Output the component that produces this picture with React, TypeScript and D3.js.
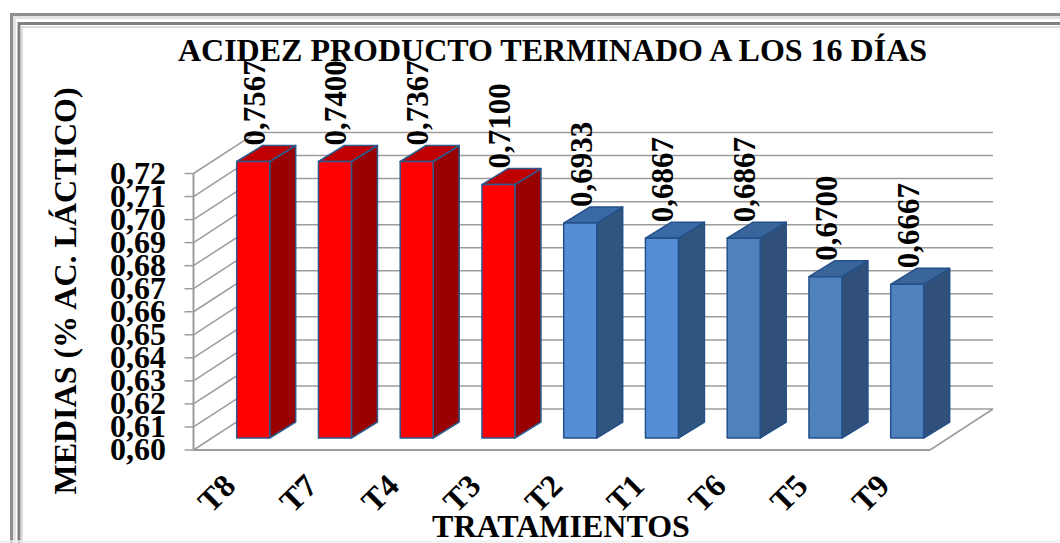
import React from "react";
import * as d3 from "d3";

// Acidez del producto terminado, tratamientos ordenados de mayor a menor
const treatments = ["T8", "T7", "T4", "T3", "T2", "T1", "T6", "T5", "T9"];
const means = [0.7567, 0.74, 0.7367, 0.71, 0.6933, 0.6867, 0.6867, 0.67, 0.6667];
const meanLabels = ["0,7567", "0,7400", "0,7367", "0,7100", "0,6933", "0,6867", "0,6867", "0,6700", "0,6667"];
const faceColors = ["#ff0000", "#ff0000", "#ff0000", "#ff0000", "#558ed5", "#558ed5", "#4f81bd", "#4f81bd", "#4f81bd"];
const sideColors = ["#990000", "#990000", "#990000", "#990000", "#30567f", "#30567f", "#30507a", "#30507a", "#30507a"];
const topColors = ["#c00000", "#c00000", "#c00000", "#c00000", "#3a6aa5", "#3a6aa5", "#3a659b", "#3a659b", "#3a659b"];
const axisTicks = d3.range(0, 13).map((i) => 0.6 + i * 0.01);

const W = 1060;
const H = 543;
const serif = "'Liberation Serif', 'Times New Roman', serif";

// Proyección oblicua del gráfico: plano frontal, pared trasera y plano de las barras
const wallX = 193.5;
const floorRightX = 930;
const depthX = 63;
const depthY = -41;
const y = d3.scaleLinear().domain([0.6, 0.72]).range([450, 173.5]).clamp(true);

const barDepthX = 26;
const barDepthY = -16;
const barWidth = 33;
const barBaseOffset = -12;
const barX = d3.scalePoint<string>().domain(treatments).range([236.7, 890.7]);

const gridColor = "#9c9c9c";

export default function App() {
  return (
    <svg
      width={W}
      height={H}
      viewBox={`0 0 ${W} ${H}`}
      style={{ position: "fixed", left: 0, top: 0, background: "#fff", display: "block" }}
    >
      {/* Marco biselado */}
      <g fill="none">
        <path d="M11.5 543V14.5H1060" stroke="#8f8f8f" strokeWidth={3} />
        <path d="M14.5 543V17.5H1060" stroke="#e4e4e4" strokeWidth={3} />
        <path d="M19 543V23.5H1060" stroke="#808080" strokeWidth={3} />
        <path d="M22 543V27H1060" stroke="#ddd" strokeWidth={2} />
        <path d="M0 541.5H1060" stroke="#f0f0f0" strokeWidth={2} />
      </g>

      {/* Paredes y suelo */}
      <g stroke={gridColor} strokeWidth={1.5} fill="none">
        {axisTicks.map((t) => (
          <g key={t.toFixed(2)}>
            <line x1={wallX} y1={y(t)} x2={wallX + depthX} y2={y(t) + depthY} />
            <line x1={wallX + depthX} y1={y(t) + depthY} x2={floorRightX + depthX} y2={y(t) + depthY} />
            <line x1={wallX - 9} y1={y(t)} x2={wallX} y2={y(t)} />
          </g>
        ))}
        <line x1={wallX} y1={y(0.6)} x2={wallX} y2={y(0.72)} strokeWidth={2} />
        <line x1={wallX} y1={y(0.6)} x2={floorRightX} y2={y(0.6)} strokeWidth={2} />
        <line x1={floorRightX} y1={y(0.6)} x2={floorRightX + depthX} y2={y(0.6) + depthY} />
      </g>

      {/* Barras en tres caras */}
      {treatments.map((name, i) => {
        const x0 = barX(name) as number;
        const x1 = x0 + barWidth;
        const base = y(0.6) + barBaseOffset;
        const top = y(means[i]) + barBaseOffset;
        const edge = i < 4 ? "#2c5a8c" : "#24508a";
        const side = `${x1},${top} ${x1 + barDepthX},${top + barDepthY} ${x1 + barDepthX},${base + barDepthY} ${x1},${base}`;
        const cap = `${x0},${top} ${x1},${top} ${x1 + barDepthX},${top + barDepthY} ${x0 + barDepthX},${top + barDepthY}`;
        return (
          <g key={name} stroke={edge} strokeWidth={1.5} strokeLinejoin="round">
            <polygon points={side} fill={sideColors[i]} />
            <polygon points={cap} fill={topColors[i]} />
            <rect x={x0} y={top} width={barWidth} height={base - top} fill={faceColors[i]} />
          </g>
        );
      })}

      {/* Valores de las medias */}
      <g fontFamily={serif} fontWeight="bold" fontSize={31} fill="#000">
        {treatments.map((name, i) => {
          const lx = (barX(name) as number) + 28;
          const ly = y(means[i]) + barBaseOffset + barDepthY;
          return (
            <text key={name} transform={`translate(${lx},${ly}) rotate(-90)`}>
              {meanLabels[i]}
            </text>
          );
        })}
      </g>

      {/* Escala vertical */}
      <g fontFamily={serif} fontWeight="bold" fontSize={32} fill="#000" textAnchor="end">
        {axisTicks.map((t) => (
          <text key={t.toFixed(2)} x={166} y={y(t) + 10}>
            {t.toFixed(2).replace(".", ",")}
          </text>
        ))}
      </g>

      {/* Categorías */}
      <g fontFamily={serif} fontWeight="bold" fontSize={32} fill="#000" textAnchor="middle">
        {treatments.map((name) => {
          const cx = (barX(name) as number) - 12.5;
          return (
            <text key={name} transform={`translate(${cx},${501}) rotate(-45)`}>
              {name}
            </text>
          );
        })}
      </g>

      {/* Títulos */}
      <g fontFamily={serif} fontWeight="bold" fill="#000">
        <text x={552.5} y={61} textAnchor="middle" fontSize={32}>
          ACIDEZ PRODUCTO TERMINADO A LOS 16 DÍAS
        </text>
        <text x={561} y={537} textAnchor="middle" fontSize={32}>
          TRATAMIENTOS
        </text>
        <text transform="translate(76,291) rotate(-90)" textAnchor="middle" fontSize={32}>
          MEDIAS (% AC. LÁCTICO)
        </text>
      </g>
    </svg>
  );
}
